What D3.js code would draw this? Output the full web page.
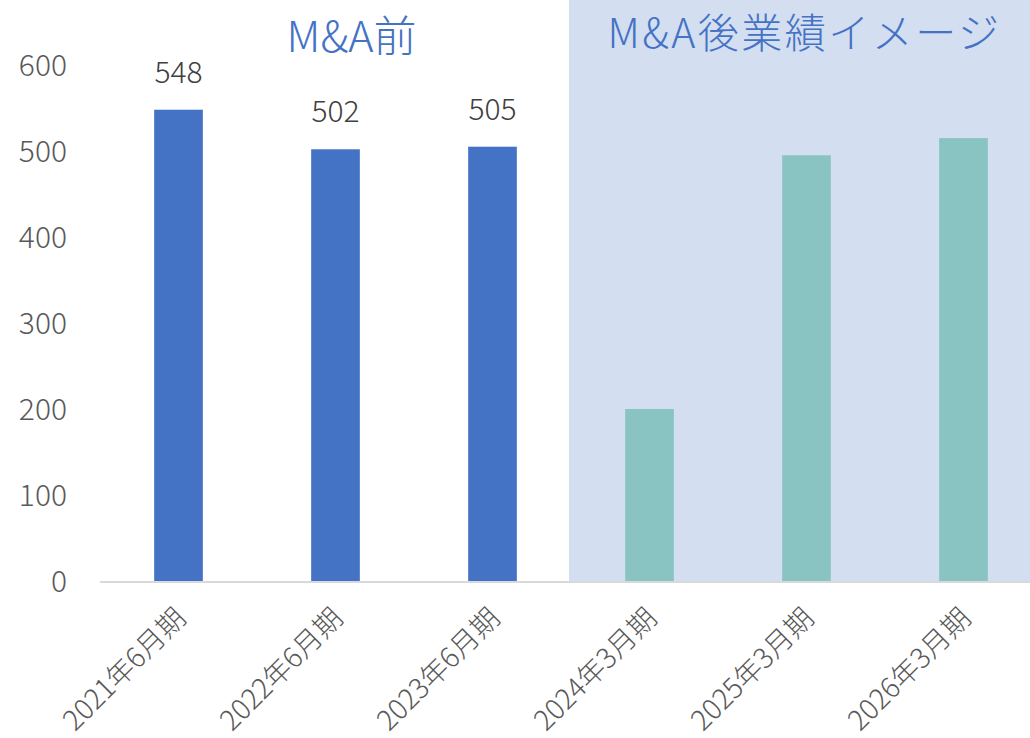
<!DOCTYPE html>
<html><head><meta charset="utf-8">
<script src="https://cdn.jsdelivr.net/npm/d3@7"></script>
<style>body{margin:0;background:#fff}svg{display:block}text{font-family:"Noto Sans CJK JP","Noto Sans",sans-serif;font-weight:300}</style>
</head><body>
<script>
const categories = ["2021年6月期","2022年6月期","2023年6月期","2024年3月期","2025年3月期","2026年3月期"];
const values = [548, 502, 505, 200, 495, 515];
const labeled = [true, true, true, false, false, false];
const groups = ["pre","pre","pre","post","post","post"];
const yTicks = [0,100,200,300,400,500,600];
const unitLabel = "（百万円）";
const sectionTitles = ["M&A前","M&A後業績イメージ"];

const W = 1030, H = 738;
const svg = d3.select("body").append("svg").attr("width", W).attr("height", H);
const x = d3.scaleBand().domain(categories).range([100, 1042]).paddingInner(0.69).paddingOuter(0.345);
const y = d3.scaleLinear().domain([0, 600]).range([581, 65]);

// shaded post-M&A region
const firstPost = categories[groups.indexOf("post")];
const shadeX = x(firstPost) - x.step()*x.paddingInner()/2 - 2;
svg.append("rect").attr("x", shadeX).attr("y", 0).attr("width", W - shadeX).attr("height", y(0)).attr("fill", "#D3DEF0");

// y axis labels
svg.append("g").selectAll("text").data(yTicks).join("text")
  .attr("x", 67).attr("y", d => y(d)).attr("dy", "0.36em").attr("text-anchor", "end")
  .attr("font-size", 30).attr("fill", "#595959").text(d => d);

// bars
svg.append("g").selectAll("rect").data(values).join("rect")
  .attr("x", (d,i) => x(categories[i])).attr("width", x.bandwidth())
  .attr("y", d => y(d)).attr("height", d => y(0) - y(d))
  .attr("fill", (d,i) => groups[i] === "pre" ? "#4472C4" : "#8AC4C2");

// axis line
svg.append("line").attr("x1", 100).attr("x2", W).attr("y1", y(0)+1).attr("y2", y(0)+1)
  .attr("stroke", "#D9D9D9").attr("stroke-width", 2);

// data labels
svg.append("g").selectAll("text").data(values.map((v,i)=>({v,i})).filter(d=>labeled[d.i])).join("text")
  .attr("x", d => x(categories[d.i]) + x.bandwidth()/2).attr("y", d => y(d.v) - 27)
  .attr("text-anchor", "middle").attr("font-size", 30).attr("fill", "#404040").text(d => d.v);

// x labels
svg.append("g").selectAll("text").data(categories).join("text")
  .attr("transform", d => `translate(${x(d)+x.bandwidth()/2+2},${y(0)+32}) rotate(-45)`)
  .attr("text-anchor", "end").attr("dy", "0.35em").attr("font-size", 28).attr("fill", "#595959").text(d => d);

// section titles
const preCenter = (100 + shadeX)/2 + 17;
const postCenter = (shadeX + W)/2 + 5;
svg.append("text").attr("x", preCenter).attr("y", 52).attr("text-anchor", "middle")
  .attr("font-size", 43).attr("fill", "#4472C4").text(sectionTitles[0]);
svg.append("text").attr("x", postCenter).attr("y", 48).attr("text-anchor", "middle")
  .attr("font-size", 41).attr("letter-spacing", 2.5).attr("fill", "#4472C4").text(sectionTitles[1]);

// cut-off unit label (clipped at the top edge as in the reference)
svg.append("text").attr("x", 40).attr("y", -3).attr("font-size", 26).attr("fill", "#595959").text(unitLabel);
</script>
</body></html>
